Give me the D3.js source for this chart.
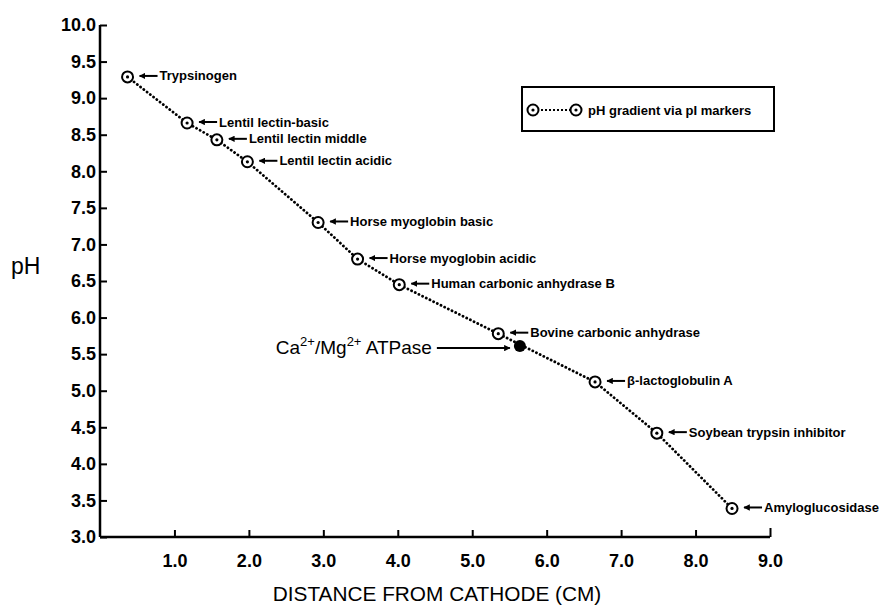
<!DOCTYPE html>
<html>
<head>
<meta charset="utf-8">
<script src="https://cdn.jsdelivr.net/npm/d3@7"></script>
<style>
  body { margin: 0; background: #fff; }
  text { font-family: "Liberation Sans", Arial, sans-serif; fill: #000; }
</style>
</head>
<body>
<script>
        //size of the page
        var width = 891
        var height = 608

        //pI marker proteins
        var markerNames = ["Trypsinogen", "Lentil lectin-basic", "Lentil lectin middle", "Lentil lectin acidic",
            "Horse myoglobin basic", "Horse myoglobin acidic", "Human carbonic anhydrase B",
            "Bovine carbonic anhydrase", "\u03b2-lactoglobulin A", "Soybean trypsin inhibitor", "Amyloglucosidase"]
        var markerDist = [0.37, 1.17, 1.57, 1.98, 2.93, 3.46, 4.02, 5.35, 6.65, 7.48, 8.49]
        var markerPH = [9.29, 8.66, 8.43, 8.13, 7.30, 6.80, 6.45, 5.78, 5.12, 4.42, 3.39]

        //the ATPase sample
        var sampleDist = [5.64]
        var samplePH = [5.61]

        //ticks
        var xTicks = [1, 2, 3, 4, 5, 6, 7, 8, 9]
        var yTicks = [3, 3.5, 4, 4.5, 5, 5.5, 6, 6.5, 7, 7.5, 8, 8.5, 9, 9.5, 10]

        var svg = d3.select("body")
            .append("svg")
            .attr("width", width)
            .attr("height", height);

        var x = d3.scaleLinear().domain([0, 9]).range([100, 770])
        var y = d3.scaleLinear().domain([3, 10]).range([537, 25])

        var markers = markerNames.map(function(n, i) {
            return {name: n, dist: markerDist[i], ph: markerPH[i]}
        })

        svg.append("defs").append("marker")
            .attr("id", "head")
            .attr("viewBox", "0 0 10 10")
            .attr("refX", 9).attr("refY", 5)
            .attr("markerWidth", 3.2).attr("markerHeight", 3.2)
            .attr("orient", "auto")
            .append("path")
            .attr("d", "M0,0L10,5L0,10Z")
            .attr("fill", "black")

        drawAxes()
        drawLine()
        drawMarkers()
        drawSample()
        drawLegend()

        function drawAxes() {
            var xAxis = d3.axisBottom(x)
                .tickValues(xTicks)
                .tickSize(-7)
                .tickPadding(17)
                .tickFormat(d3.format(".1f"))
            var gx = svg.append("g")
                .attr("transform", "translate(0," + y(3) + ")")
                .call(xAxis)
            gx.select(".domain").attr("d", "M" + x(0) + ",0H" + x(9))

            var yAxis = d3.axisLeft(y)
                .tickValues(yTicks)
                .tickSize(-7)
                .tickPadding(4)
                .tickFormat(d3.format(".1f"))
            var gy = svg.append("g")
                .attr("transform", "translate(" + x(0) + ",0)")
                .call(yAxis)
            gy.select(".domain").attr("d", "M0," + y(3) + "V" + y(10))

            svg.selectAll(".domain").attr("stroke", "black").attr("stroke-width", 2.5)
            svg.selectAll(".tick line").attr("stroke", "black").attr("stroke-width", 2)
            svg.selectAll(".tick text")
                .style("font-family", "'Liberation Sans', Arial, sans-serif")
                .style("font-size", "18px")
                .style("font-weight", "bold")
                .attr("fill", "black")
            gx.selectAll(".tick").filter(function(d) { return d == 9 }).select("line").attr("y2", -9)

            svg.append("text")
                .attr("x", 437).attr("y", 601)
                .attr("text-anchor", "middle")
                .style("font-size", "20.8px")
                .text("DISTANCE FROM CATHODE (CM)")

            svg.append("text")
                .attr("x", 11).attr("y", 274)
                .style("font-size", "23px")
                .text("pH")
        }

        function drawLine() {
            var line = d3.line()
                .x(function(d) { return x(d.dist) })
                .y(function(d) { return y(d.ph) })
            svg.append("path")
                .attr("d", line(markers))
                .attr("fill", "none")
                .attr("stroke", "black")
                .attr("stroke-width", 2.8)
                .attr("stroke-dasharray", "0.1,4")
                .attr("stroke-linecap", "round")
        }

        function drawMarkers() {
            var g = svg.selectAll(".pm")
                .data(markers)
                .enter()
                .append("g")
                .attr("class", "pm")
                .attr("transform", function(d) { return "translate(" + x(d.dist) + "," + y(d.ph) + ")" })

            g.append("circle")
                .attr("r", 5.5)
                .attr("fill", "white")
                .attr("stroke", "black")
                .attr("stroke-width", 2)
            g.append("circle")
                .attr("r", 1.6)
                .attr("fill", "black")

            g.append("line")
                .attr("x1", 30).attr("x2", 12)
                .attr("y1", -1).attr("y2", -1)
                .attr("stroke", "black")
                .attr("stroke-width", 2)
                .attr("marker-end", "url(#head)")

            g.append("text")
                .attr("x", 32).attr("y", -1)
                .attr("dy", "0.35em")
                .style("font-size", "13px")
                .style("font-weight", "bold")
                .text(function(d) { return d.name })
        }

        function drawSample() {
            var sx = x(sampleDist[0])
            var sy = y(samplePH[0])
            svg.append("circle")
                .attr("cx", sx).attr("cy", sy)
                .attr("r", 6)
                .attr("fill", "black")

            svg.append("line")
                .attr("x1", sx - 83).attr("x2", sx - 10)
                .attr("y1", sy + 2).attr("y2", sy + 2)
                .attr("stroke", "black")
                .attr("stroke-width", 2)
                .attr("marker-end", "url(#head)")

            var t = svg.append("text")
                .attr("x", sx - 88).attr("y", sy + 8)
                .attr("text-anchor", "end")
                .style("font-size", "19px")
            t.append("tspan").text("Ca")
            t.append("tspan").attr("dy", -8).style("font-size", "13px").text("2+")
            t.append("tspan").attr("dy", 8).text("/Mg")
            t.append("tspan").attr("dy", -8).style("font-size", "13px").text("2+")
            t.append("tspan").attr("dy", 8).text(" ATPase")
        }

        function drawLegend() {
            svg.append("rect")
                .attr("x", 522).attr("y", 87)
                .attr("width", 252).attr("height", 44)
                .attr("fill", "none")
                .attr("stroke", "black")
                .attr("stroke-width", 2)

            var ly = 110
            svg.append("line")
                .attr("x1", 533).attr("x2", 576)
                .attr("y1", ly).attr("y2", ly)
                .attr("stroke", "black")
                .attr("stroke-width", 2)
                .attr("stroke-dasharray", "2,2")
            ;[533, 576].forEach(function(cx) {
                svg.append("circle").attr("cx", cx).attr("cy", ly).attr("r", 5.5)
                    .attr("fill", "white").attr("stroke", "black").attr("stroke-width", 2)
                svg.append("circle").attr("cx", cx).attr("cy", ly).attr("r", 1.6).attr("fill", "black")
            })
            svg.append("text")
                .attr("x", 588).attr("y", ly)
                .attr("dy", "0.35em")
                .style("font-size", "13px")
                .style("font-weight", "bold")
                .text("pH gradient via pI markers")
        }
</script>
</body>
</html>
